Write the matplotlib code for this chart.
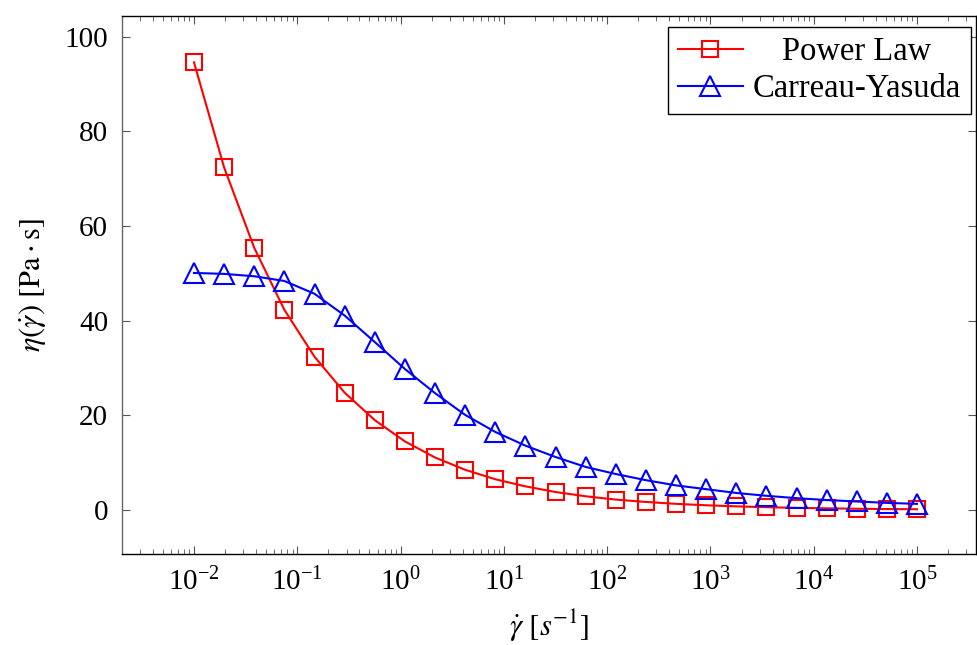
import matplotlib
matplotlib.use("Agg")
import matplotlib.pyplot as plt
from matplotlib.ticker import LogLocator, FixedLocator, LogFormatterMathtext, NullFormatter

plt.rcParams['font.family'] = ['Liberation Serif', 'DejaVu Serif']
plt.rcParams['mathtext.fontset'] = 'stix'

# shear rates (1/s)
shear_rate = [0.01, 0.01957, 0.03831, 0.07499, 0.1468, 0.2873, 0.5623, 1.101,
              2.154, 4.217, 8.254, 16.16, 31.62, 61.90, 121.2, 237.1, 464.2,
              908.5, 1778, 3481, 6813, 13335, 26102, 51090, 100000]

power_law = [94.6, 72.4, 55.4, 42.3, 32.4, 24.8, 19.0, 14.5, 11.1, 8.5, 6.5,
             5.0, 3.8, 2.9, 2.2, 1.7, 1.3, 1.0, 0.77, 0.59, 0.45, 0.35, 0.26,
             0.2, 0.155]

carreau_yasuda = [50.1, 49.9, 49.4, 48.4, 45.7, 41.1, 35.5, 29.8, 24.7, 20.1,
                  16.5, 13.6, 11.2, 9.1, 7.6, 6.3, 5.2, 4.4, 3.6, 3.0, 2.5,
                  2.1, 1.8, 1.5, 1.3]

series_labels = ['Power Law', 'Carreau-Yasuda']
y_ticks = [0, 20, 40, 60, 80, 100]
x_major = [1e-2, 1e-1, 1e0, 1e1, 1e2, 1e3, 1e4, 1e5]

W, H = 977, 645
fig = plt.figure(figsize=(W / 100, H / 100), dpi=100)
ax = fig.add_axes([122 / W, (H - 554) / H, (976 - 122) / W, (554 - 16) / H])

ax.plot(shear_rate, power_law, color='red', lw=1.5, marker='s', ms=11.5,
        mfc='none', mec='red', mew=1.5, label=series_labels[0])
ax.plot(shear_rate, carreau_yasuda, color='blue', lw=1.5, marker='^', ms=14,
        mfc='none', mec='blue', mew=1.5, label=series_labels[1])

ax.set_xscale('log')
ax.set_xlim(10 ** -2.697, 10 ** 5.571)
ax.set_ylim(-9.3, 104.4)

ax.xaxis.set_major_locator(FixedLocator(x_major))
ax.xaxis.set_major_formatter(LogFormatterMathtext())
ax.xaxis.set_minor_locator(LogLocator(base=10, subs=range(2, 10), numticks=20))
ax.xaxis.set_minor_formatter(NullFormatter())
ax.set_yticks(y_ticks)

ax.tick_params(axis='both', which='major', direction='in', length=6,
               width=0.8, color='#555555', labelsize=21, top=True, right=True, pad=10)
ax.tick_params(axis='x', which='minor', direction='in', length=3.5,
               width=0.6, color='#555555', top=True, bottom=True)
for s in ax.spines.values():
    s.set_linewidth(1.0)
ax.spines['left'].set_color('#666666')

ax.set_xlabel(r'$\dot{\gamma}\ [s^{-1}]$', fontsize=22, labelpad=8)
ax.set_ylabel(r'$\eta(\dot{\gamma})\ [\mathrm{Pa}\cdot\mathrm{s}]$', fontsize=22, labelpad=12)

leg = ax.legend(loc='upper right', bbox_to_anchor=(0.9941, 0.9796),
                fontsize=23.5, frameon=True, fancybox=False,
                edgecolor='black', framealpha=1, borderpad=0.3,
                handlelength=2.0, handletextpad=0.3, labelspacing=0.2,
                borderaxespad=0.0)
leg.get_frame().set_linewidth(1.0)

# centre the legend labels within their column
fig.canvas.draw()
r = fig.canvas.get_renderer()
widths = [t.get_window_extent(r).width for t in leg.get_texts()]
wmax = max(widths)
for t, w in zip(leg.get_texts(), widths):
    t.set_position(((wmax - w) / 2, 0))

fig.savefig('out.png', dpi=100)
